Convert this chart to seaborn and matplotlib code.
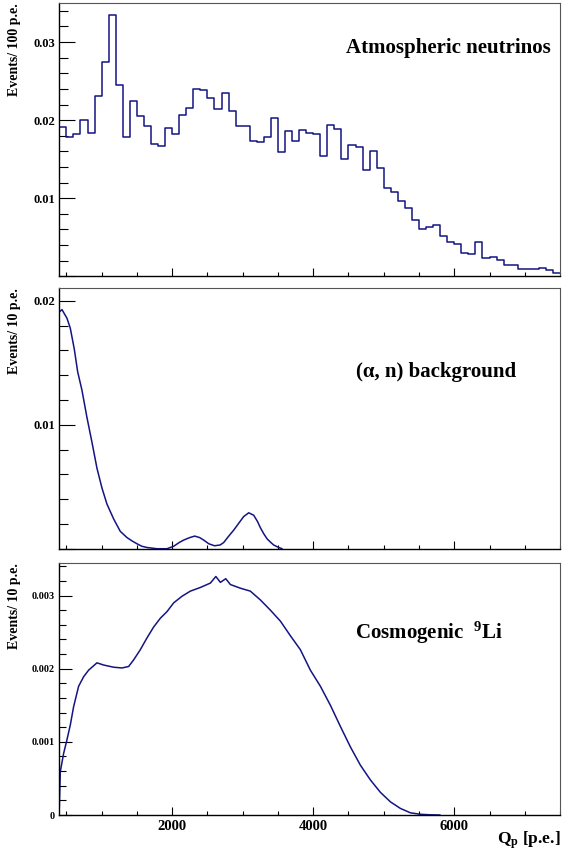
import numpy as np
import pandas as pd
import matplotlib
matplotlib.use("Agg")
import matplotlib.pyplot as plt
import seaborn as sns
from matplotlib.ticker import MultipleLocator, FuncFormatter

# --- Data ---
# Atmospheric neutrinos: 100 p.e. bins from 400 to 7500
ATM_LOW, ATM_HIGH, ATM_WIDTH = 400, 7500, 100
atm_values = [
    0.0191, 0.0179, 0.0182, 0.0200, 0.0184, 0.0231, 0.0275, 0.0335, 0.0245, 0.0178,
    0.0224, 0.0205, 0.0192, 0.0169, 0.0167, 0.0190, 0.0182, 0.0207, 0.0216, 0.0240,
    0.0238, 0.0228, 0.0214, 0.0235, 0.0212, 0.0192, 0.0192, 0.0173, 0.0172, 0.0179,
    0.0203, 0.0159, 0.0186, 0.0173, 0.0188, 0.0184, 0.0182, 0.0154, 0.0194, 0.0189,
    0.0150, 0.0168, 0.0165, 0.0136, 0.0160, 0.0139, 0.0113, 0.0108, 0.0097, 0.0088,
    0.0072, 0.0061, 0.0063, 0.0066, 0.0052, 0.0044, 0.0042, 0.0030, 0.0028, 0.0044,
    0.0024, 0.0025, 0.0021, 0.0014, 0.0014, 0.0009, 0.0010, 0.0009, 0.0011, 0.0008,
    0.0004,
]

# (alpha, n) background, 10 p.e. bins (sampled)
alpha_q = [400, 438, 509, 556, 613, 660, 721, 792, 863, 934, 1005, 1076, 1171,
           1265, 1360, 1440, 1502, 1570, 1643, 1785, 1927, 2022, 2100, 2164, 2250,
           2320, 2390, 2447, 2520, 2600, 2680, 2731, 2800, 2873, 2950, 3015, 3086,
           3157, 3210, 3251, 3300, 3346, 3400, 3440, 3511, 3560]
alpha_v = [0.0191, 0.0193, 0.0186, 0.0178, 0.0161, 0.0143, 0.0128, 0.0106, 0.0086,
           0.0065, 0.0049, 0.0036, 0.0024, 0.0014, 0.0009, 0.0006, 0.0004, 0.0002,
           0.0001, 0.0, 0.0, 0.0002, 0.0005, 0.0007, 0.0009, 0.00102, 0.0009,
           0.0007, 0.0004, 0.00024, 0.0003, 0.0005, 0.0010, 0.0015, 0.0021, 0.0026,
           0.0029, 0.0027, 0.0022, 0.0017, 0.0012, 0.0008, 0.0005, 0.0003, 0.0001,
           0.0]

# Cosmogenic 9Li, 10 p.e. bins (sampled)
li_q = [400, 414, 461, 509, 556, 603, 674, 745, 816, 934, 1029, 1171, 1289, 1383,
        1454, 1549, 1643, 1738, 1833, 1927, 2022, 2140, 2258, 2400, 2542, 2620,
        2684, 2760, 2826, 2968, 3109, 3251, 3393, 3535, 3677, 3818, 3960, 4102,
        4244, 4386, 4528, 4670, 4811, 4953, 5095, 5237, 5379, 5521, 5660, 5800]
li_v = [0.0001, 0.00059, 0.00084, 0.00103, 0.00123, 0.00148, 0.00176, 0.00189,
        0.00198, 0.00208, 0.00205, 0.00202, 0.00201, 0.00203, 0.00212, 0.00226,
        0.00242, 0.00257, 0.00269, 0.00278, 0.00290, 0.00299, 0.00306, 0.00311,
        0.00317, 0.00326, 0.00318, 0.00323, 0.00315, 0.00310, 0.00306, 0.00294,
        0.00280, 0.00265, 0.00245, 0.00226, 0.00198, 0.00176, 0.00150, 0.00121,
        0.00093, 0.00068, 0.00048, 0.00031, 0.00018, 0.00009, 0.00003, 0.00001,
        0.000003, 0.0]

LINE_COLOR = "#141482"
FRAME_GRAY = "#555555"

sns.set_theme(style="white")
plt.rcParams["font.family"] = ["Liberation Serif", "DejaVu Serif"]
plt.rcParams["font.weight"] = "bold"
plt.rcParams["text.color"] = "black"
plt.rcParams["axes.labelcolor"] = "black"
plt.rcParams["xtick.color"] = "black"
plt.rcParams["ytick.color"] = "black"
plt.rcParams["mathtext.fontset"] = "custom"
plt.rcParams["mathtext.rm"] = "Liberation Serif:bold"
plt.rcParams["mathtext.it"] = "Liberation Serif:bold"
plt.rcParams["mathtext.bf"] = "Liberation Serif:bold"


def y_fmt(show_zero):
    def f(v, pos):
        if abs(v) < 1e-12:
            return "0" if show_zero else ""
        return f"{v:g}"
    return FuncFormatter(f)


def style_axes(ax, ymax, ymajor, yminor, ylabel, ytick_len, ylab_size, show_zero, xlabels):
    ax.set_xlim(ATM_LOW, ATM_HIGH)
    ax.set_ylim(0, ymax)
    ax.xaxis.set_major_locator(MultipleLocator(2000))
    ax.xaxis.set_minor_locator(MultipleLocator(500))
    ax.yaxis.set_major_locator(MultipleLocator(ymajor))
    ax.yaxis.set_minor_locator(MultipleLocator(yminor))
    ax.yaxis.set_major_formatter(y_fmt(show_zero))
    ax.tick_params(axis="both", which="both", direction="in", top=False, right=False,
                   bottom=True, left=True, width=0.8, color="black", labelcolor="black")
    ax.tick_params(axis="x", which="major", length=5.6, pad=3.5, labelsize=10.5)
    ax.tick_params(axis="x", which="minor", length=3.0)
    ax.tick_params(axis="y", which="major", length=ytick_len, pad=3, labelsize=ylab_size)
    ax.tick_params(axis="y", which="minor", length=ytick_len * 0.54)
    if not xlabels:
        ax.tick_params(axis="x", labelbottom=False)
    for side in ["left", "bottom"]:
        ax.spines[side].set_color("black")
        ax.spines[side].set_linewidth(1.0)
    for side in ["top", "right"]:
        ax.spines[side].set_color(FRAME_GRAY)
        ax.spines[side].set_linewidth(0.8)
    ax.set_ylabel(ylabel, loc="top", fontsize=10, fontweight="bold", color="black")
    ax.yaxis.set_label_coords(-0.077, 1.0)
    ax.set_xlabel("")
    for lab in ax.get_xticklabels() + ax.get_yticklabels():
        lab.set_fontweight("bold")


fig = plt.figure(figsize=(5.62, 8.59), dpi=100)
ax1 = fig.add_axes([0.1055, 0.6783, 0.891, 0.3182])
ax2 = fig.add_axes([0.1055, 0.3612, 0.891, 0.3032])
ax3 = fig.add_axes([0.1055, 0.0512, 0.891, 0.2930])

# Top: atmospheric neutrinos histogram
edges = np.arange(ATM_LOW, ATM_HIGH + ATM_WIDTH, ATM_WIDTH).tolist()
atm_df = pd.DataFrame({"q": [e + ATM_WIDTH / 2 for e in edges[:-1]], "w": atm_values})
sns.histplot(data=atm_df, x="q", weights="w", bins=edges, element="step", fill=False,
             color=LINE_COLOR, linewidth=1.1, ax=ax1)
style_axes(ax1, 0.035, 0.01, 0.002, "Events/ 100 p.e.", 11.5, 9, False, False)
ax1.text(0.982, 0.817, "Atmospheric neutrinos", transform=ax1.transAxes, ha="right",
         va="baseline", fontsize=15, fontweight="bold", color="black")

# Middle: (alpha, n) background
alpha_df = pd.DataFrame({"q": alpha_q, "v": alpha_v})
sns.lineplot(data=alpha_df, x="q", y="v", color=LINE_COLOR, linewidth=1.1,
             sort=False, estimator=None, ax=ax2)
style_axes(ax2, 0.02102, 0.01, 0.002, "Events/ 10 p.e.", 11.5, 9, False, False)
ax2.text(0.5926, 0.6605, "(\u03b1, n) background", transform=ax2.transAxes, ha="left",
         va="baseline", fontsize=15, fontweight="bold", color="black")

# Bottom: cosmogenic 9Li
li_df = pd.DataFrame({"q": li_q, "v": li_v})
sns.lineplot(data=li_df, x="q", y="v", color=LINE_COLOR, linewidth=1.1,
             sort=False, estimator=None, ax=ax3)
style_axes(ax3, 0.00344, 0.001, 0.0002, "Events/ 10 p.e.", 9.2, 7.3, True, True)
ax3.text(0.5906, 0.702, "Cosmogenic  $^{9}$Li", transform=ax3.transAxes, ha="left",
         va="baseline", fontsize=15, fontweight="bold", color="black")
ax3.set_xlabel("Q$_{\\mathrm{p}}$ [p.e.]", loc="right", fontsize=12.5, fontweight="bold",
               color="black")
ax3.xaxis.set_label_coords(1.0, -0.056)

fig.savefig("out.png", dpi=100)
